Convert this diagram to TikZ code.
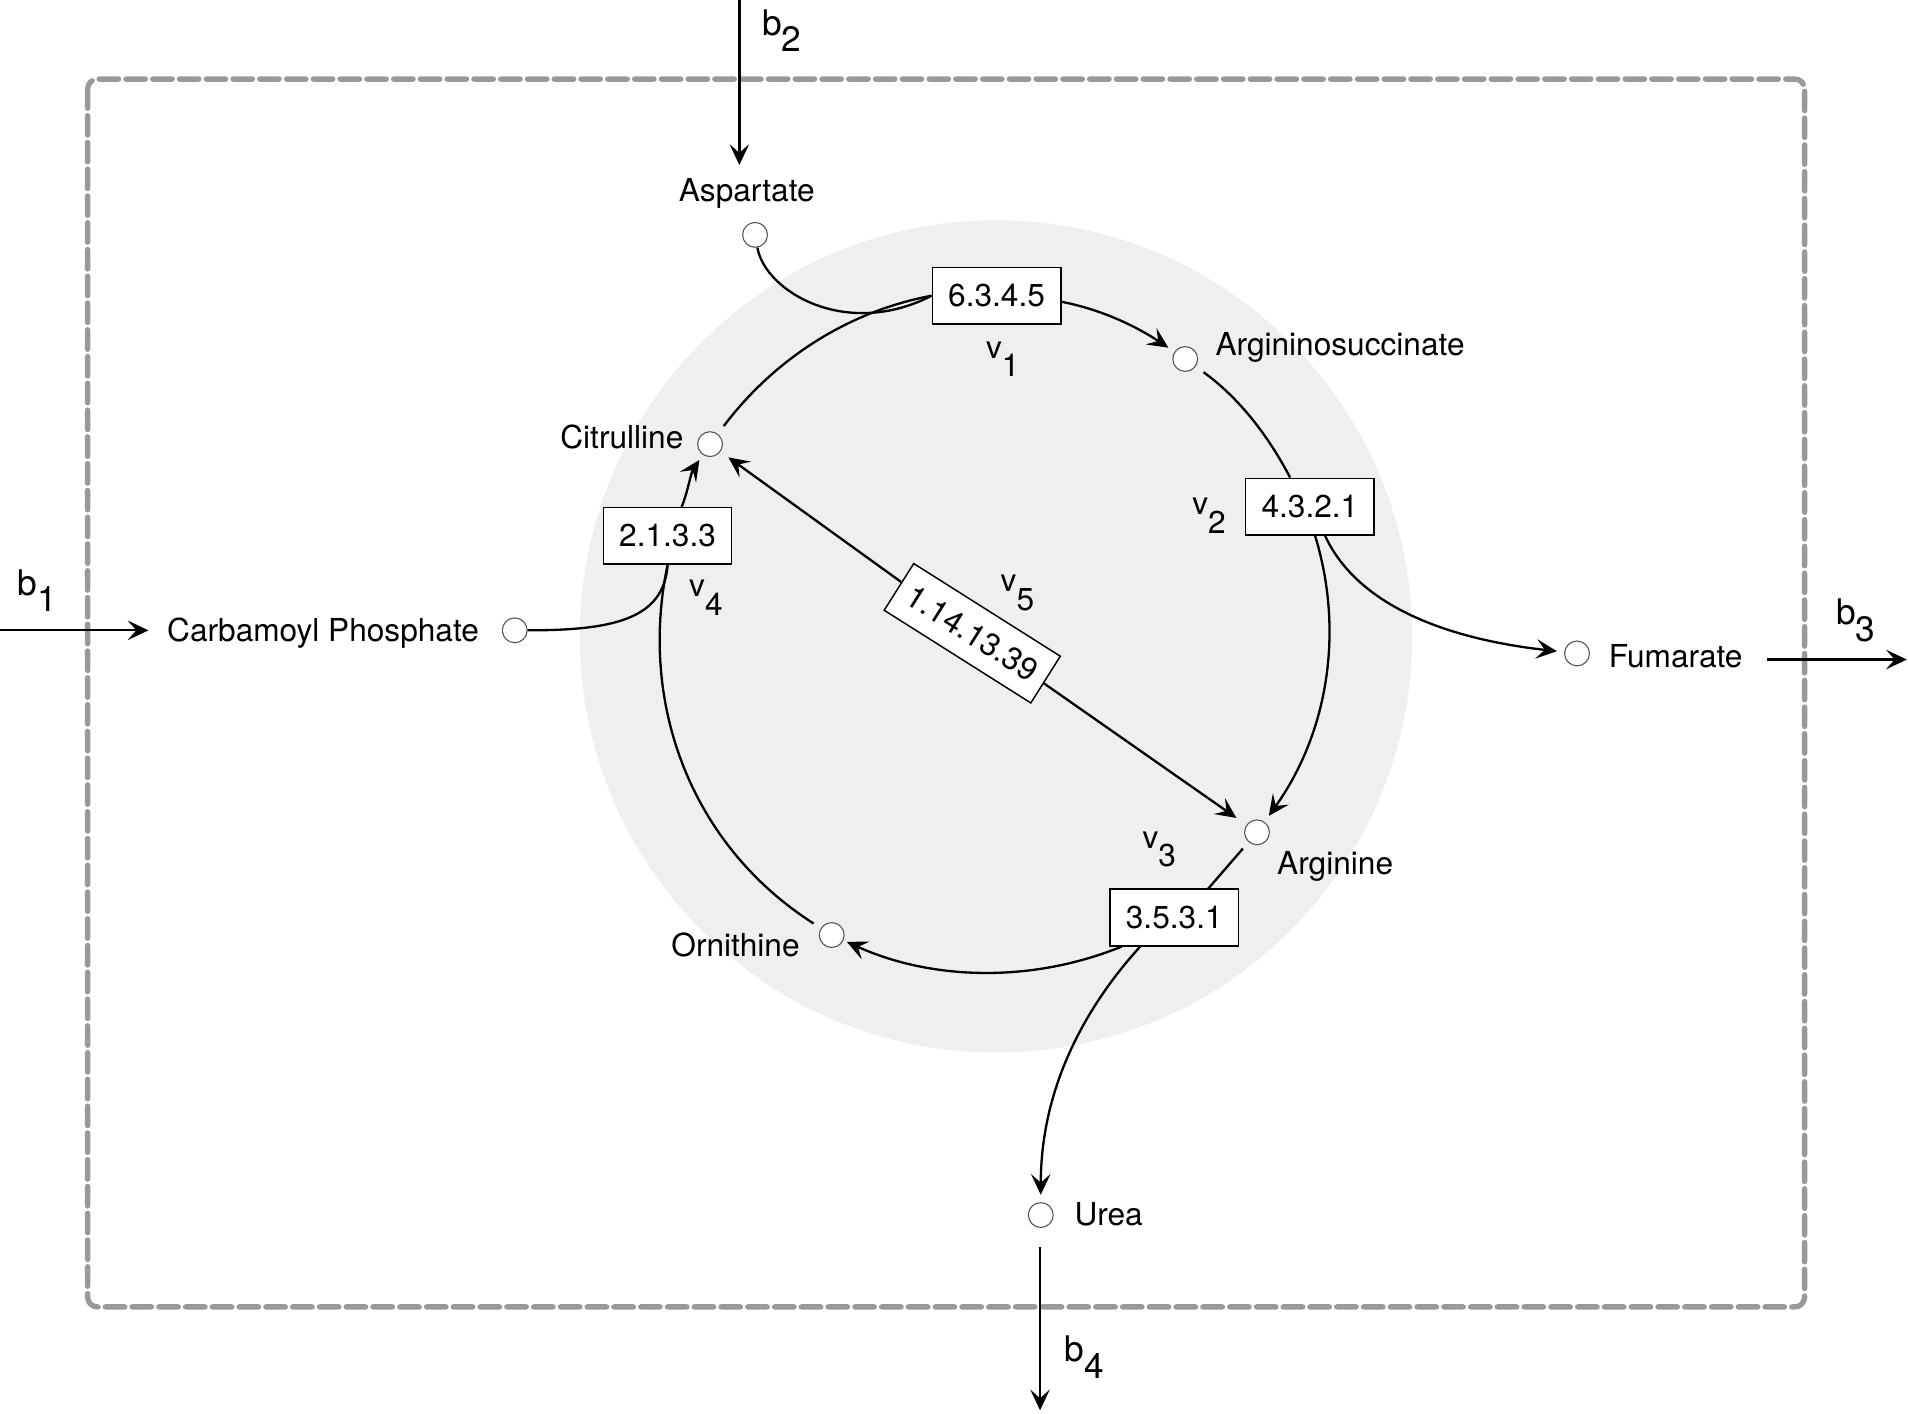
\documentclass[tikz,border=0pt]{standalone}
\usepackage{fontspec}
\setmainfont{TeX Gyre Heros}
\usetikzlibrary{arrows.meta}
\definecolor{ringfill}{RGB}{239,239,239}
\definecolor{framegray}{RGB}{153,153,153}
\definecolor{metline}{RGB}{85,85,85}
\newcommand{\vsub}[2]{#1\raisebox{-7.5pt}{#2}}
\newcommand{\bsub}[2]{#1\raisebox{-6.8pt}{#2}}
\begin{document}
\begin{tikzpicture}[x=0.5pt,y=-0.5pt,
  every node/.style={font=\fontsize{13pt}{15pt}\selectfont},
  met/.style={circle,draw=metline,line width=0.45pt,fill=white,minimum size=10.2pt,inner sep=0pt},
  enz/.style={draw=black,line width=0.6pt,fill=white,minimum width=52.75pt,minimum height=23.25pt,inner sep=0pt},
  lab/.style={inner sep=0pt},
  blab/.style={inner sep=0pt,font=\fontsize{14.5pt}{16pt}\selectfont},
  flow/.style={line width=0.95pt,draw=black},
  flowarrow/.style={flow,-{Stealth[length=8.5pt,width=8pt,inset=3.5pt]}},
]
\useasboundingbox (0,0) rectangle (1568,1162);
\fill[ringfill] (818.5,523) circle[radius=171pt];
\draw[framegray,line width=2.2pt,dash pattern=on 8pt off 3pt,line cap=round,rounded corners=4pt] (72,65) rectangle (1483,1074);

% metabolites
\node[met] (asp) at (620.5,193) {};
\node[lab,anchor=base] (asplbl) at (613.7,165.8) {Aspartate};
\node[met] (ais) at (974,295) {};
\node[lab,anchor=base west] (aislbl) at (998.5,292.5) {Argininosuccinate};
\node[met] (cit) at (583.5,365) {};
\node[lab,anchor=base east] (citlbl) at (562,368.4) {Citrulline};
\node[met] (cp) at (423,518) {};
\node[lab,anchor=base east] (cplbl) at (394,527.5) {Carbamoyl Phosphate};
\node[met] (fum) at (1296,537) {};
\node[lab,anchor=base west] (fumlbl) at (1321.8,548.4) {Fumarate};
\node[met] (arg) at (1033,684) {};
\node[lab,anchor=base west] (arglbl) at (1049.2,718.3) {Arginine};
\node[met] (orn) at (683.5,768.4) {};
\node[lab,anchor=base east] (ornlbl) at (657.5,785.7) {Ornithine};
\node[met] (urea) at (855.3,998.5) {};
\node[lab,anchor=base west] (urealbl) at (882.7,1007.3) {Urea};

% enzymes
\node[enz] (e1) at (819,243) {6.3.4.5};
\node[enz] (e2) at (1076.5,416.3) {4.3.2.1};
\node[enz] (e3) at (965,754) {3.5.3.1};
\node[enz] (e4) at (548.6,440.4) {2.1.3.3};
\node[enz,rotate=-32.3,minimum width=71.25pt,minimum height=22.7pt] (e5) at (799,520.4) {1.14.13.39};

% reaction labels
\node[lab,anchor=base west] (v1) at (810,294.5) {\vsub{v}{1}};
\node[lab,anchor=base west] (v2) at (979.5,423.2) {\vsub{v}{2}};
\node[lab,anchor=base west] (v3) at (938.5,697.2) {\vsub{v}{3}};
\node[lab,anchor=base west] (v4) at (566,490.4) {\vsub{v}{4}};
\node[lab,anchor=base west] (v5) at (822,486.3) {\vsub{v}{5}};

% cycle connectors
\draw[flow,shorten <=4pt] (cit) .. controls +(53,-70) and +(-69,13) .. (e1.west);
\draw[flow] (asp) .. controls +(8.5,47) and +(-70,36) .. (e1.west);
\draw[flowarrow,shorten >=3pt] ([yshift=-2.5pt]e1.east) .. controls +(31,6) and +(-42,-28) .. (ais);
\draw[flow,shorten <=4pt] (ais) .. controls +(43.5,31.4) and +(-18.4,-35.3) .. ([xshift=-8.15pt]e2.north);
\draw[flowarrow,shorten >=3pt] ([xshift=2.1pt]e2.south) .. controls +(24.2,78.8) and +(58.3,-81.6) .. (arg);
\draw[flowarrow,shorten >=3pt] ([xshift=6.2pt]e2.south) .. controls +(30,65) and +(-90,-10) .. (fum);
\draw[flow,shorten <=3.5pt] (arg) -- ([xshift=14pt]e3.north);
\draw[flowarrow,shorten >=1.5pt] ([xshift=-21.6pt]e3.south) .. controls +(-72.8,29.7) and +(83.1,37.7) .. (orn);
\draw[flowarrow,shorten >=3pt] ([xshift=-14pt]e3.south) .. controls +(-40,44) and +(0,-110) .. (urea);
\draw[flow,shorten <=3.5pt] (orn) .. controls +(-114.8,-73.2) and +(-24.2,115.1) .. (e4.south);
\draw[flow] (cp) .. controls +(80,0) and +(-3,45) .. (e4.south);
\draw[flowarrow,shorten >=2.5pt] ([xshift=5.8pt]e4.north) .. controls +(5.3,-13.2) and +(-16,23.9) .. (cit);
\draw[flowarrow,shorten >=4pt] (e5) -- (cit);
\draw[flowarrow,shorten >=5pt] (e5) -- (arg);

% boundary fluxes
\coordinate (b1s) at (0,518);
\coordinate (b1e) at (122,518);
\draw[flowarrow] (b1s) -- (b1e);
\node[blab,anchor=base west] (b1lbl) at (14,489) {\bsub{b}{1}};
\coordinate (b2s) at (607.6,0);
\coordinate (b2e) at (607.6,135.6);
\draw[flowarrow] (b2s) -- (b2e);
\node[blab,anchor=base west] (b2lbl) at (626,28.8) {\bsub{b}{2}};
\coordinate (b3s) at (1452,542);
\coordinate (b3e) at (1567,542);
\draw[flowarrow] (b3s) -- (b3e);
\node[blab,anchor=base west] (b3lbl) at (1508.5,513.6) {\bsub{b}{3}};
\coordinate (b4s) at (854.7,1025);
\coordinate (b4e) at (854.7,1159);
\draw[flowarrow] (b4s) -- (b4e);
\node[blab,anchor=base west] (b4lbl) at (874.5,1119) {\bsub{b}{4}};
\end{tikzpicture}
\end{document}
